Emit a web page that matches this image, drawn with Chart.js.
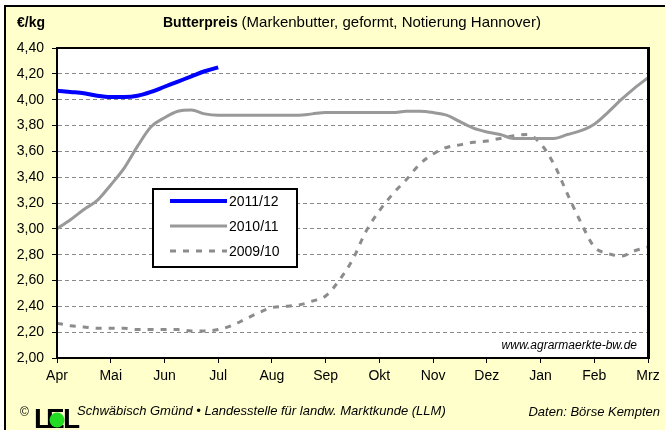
<!DOCTYPE html>
<html>
<head>
<meta charset="utf-8">
<script src="https://cdn.jsdelivr.net/npm/chart.js@4.4.1/dist/chart.umd.min.js"></script>
<style>
  html, body { margin: 0; padding: 0; background: #fff; }
  canvas { display: block; }
</style>
</head>
<body>
<canvas id="butterChart" width="665" height="430"></canvas>
<script>
var monthLabels = ['Apr', 'Mai', 'Jun', 'Jul', 'Aug', 'Sep', 'Okt', 'Nov', 'Dez', 'Jan', 'Feb', 'Mrz'];
var seriesNames = ['2011/12', '2010/11', '2009/10'];

// one reading per quarter month, starting at Apr (EUR/kg)
var price2011 = [4.07, 4.06, 4.05, 4.03, 4.02, 4.02, 4.03, 4.06, 4.10, 4.14, 4.18, 4.22, 4.25];
var price2010 = [3.00, 3.07, 3.15, 3.22, 3.34, 3.47, 3.64, 3.79, 3.86, 3.91, 3.92, 3.89,
                 3.88, 3.88, 3.88, 3.88, 3.88, 3.88, 3.88, 3.89, 3.90, 3.90, 3.90, 3.90,
                 3.90, 3.90, 3.91, 3.91, 3.90, 3.88, 3.83, 3.78, 3.75, 3.73, 3.70, 3.70,
                 3.70, 3.70, 3.73, 3.76, 3.81, 3.90, 4.00, 4.09, 4.17];
var price2009 = [2.27, 2.25, 2.24, 2.23, 2.23, 2.23, 2.22, 2.22, 2.22, 2.22, 2.21, 2.21,
                 2.22, 2.25, 2.30, 2.35, 2.39, 2.40, 2.41, 2.44, 2.48, 2.60, 2.76, 2.98,
                 3.14, 3.27, 3.38, 3.50, 3.58, 3.63, 3.65, 3.67, 3.68, 3.70, 3.72, 3.73,
                 3.66, 3.50, 3.27, 3.05, 2.86, 2.81, 2.79, 2.83, 2.86];

function toPoints(values) {
    return values.map(function (v, i) { return { x: i / 4, y: v }; });
}

var fontName = '"Liberation Sans", Arial, sans-serif';

var decorations = {
    id: 'decorations',
    beforeDraw: function (chart) {
        var c = chart.ctx, a = chart.chartArea;
        c.save();
        c.fillStyle = '#ffffff';
        c.fillRect(0, 0, 665, 430);
        c.fillStyle = '#ffffcc';
        c.fillRect(5, 5, 660, 425);
        c.strokeStyle = '#000';
        c.lineWidth = 2;
        c.beginPath();
        c.moveTo(5, 430);
        c.lineTo(5, 6);
        c.lineTo(665, 6);
        c.stroke();
        // white plot area
        c.fillStyle = '#ffffff';
        c.fillRect(a.left, a.top, a.right - a.left, a.bottom - a.top);
        c.restore();
    },
    afterDraw: function (chart) {
        var c = chart.ctx, a = chart.chartArea;
        c.save();

        // frame round the plot
        c.strokeStyle = '#000';
        c.lineWidth = 2;
        c.strokeRect(a.left, a.top, a.right - a.left, a.bottom - a.top);
        c.lineWidth = 3;
        c.beginPath();
        c.moveTo(a.right + 0.5, a.top - 1);
        c.lineTo(a.right + 0.5, a.bottom + 1);
        c.stroke();

        // titles
        c.fillStyle = '#000';
        c.textBaseline = 'alphabetic';
        c.textAlign = 'left';
        c.font = 'bold 14px ' + fontName;
        c.fillText('€/kg', 17, 27);
        c.fillText('Butterpreis', 163, 27);
        var w = c.measureText('Butterpreis ').width;
        c.font = '15px ' + fontName;
        c.fillText('(Markenbutter, geformt, Notierung Hannover)', 163 + w, 27);

        // watermark
        c.font = 'italic 12px ' + fontName;
        c.textAlign = 'right';
        c.fillText('www.agrarmaerkte-bw.de', 637, 349, 148);

        // legend
        var lx = 153, ly = 189, lw = 144, lh = 78;
        c.fillStyle = '#fff';
        c.fillRect(lx, ly, lw, lh);
        c.strokeStyle = '#000';
        c.lineWidth = 2;
        c.strokeRect(lx, ly, lw, lh);
        chart.data.datasets.forEach(function (ds, i) {
            var y = ly + 12 + i * 25;
            c.strokeStyle = ds.borderColor;
            c.lineWidth = ds.borderWidth;
            c.setLineDash(ds.borderDash || []);
            c.beginPath();
            c.moveTo(170, y);
            c.lineTo(227, y);
            c.stroke();
            c.setLineDash([]);
            c.fillStyle = '#000';
            c.font = '14px ' + fontName;
            c.textAlign = 'left';
            c.textBaseline = 'middle';
            c.fillText(ds.label, 229, y + 1);
        });

        // footer
        c.textBaseline = 'alphabetic';
        c.fillStyle = '#000';
        c.font = '12px ' + fontName;
        c.fillText('©', 20, 416);
        c.font = 'bold 28px ' + fontName;
        c.fillText('L', 34, 428);
        c.fillText('E', 46, 428);
        c.fillStyle = '#22dd22';
        c.beginPath();
        c.arc(57, 420, 7.5, 0, Math.PI * 2);
        c.fill();
        c.fillStyle = '#000';
        c.fillText('L', 63, 428);
        c.font = 'italic 13px ' + fontName;
        c.fillText('Schwäbisch Gmünd • Landesstelle für landw. Marktkunde (LLM)', 77, 415, 370);
        c.textAlign = 'right';
        c.fillText('Daten: Börse Kempten', 660, 416, 134);

        c.restore();
    }
};

var ctx = document.getElementById('butterChart').getContext('2d');
var butterChart = new Chart(ctx, {
    type: 'line',
    data: {
        datasets: [{
            label: seriesNames[0],
            data: toPoints(price2011),
            borderColor: '#0000ff',
            borderWidth: 4
        }, {
            label: seriesNames[1],
            data: toPoints(price2010),
            borderColor: '#999999',
            borderWidth: 3
        }, {
            label: seriesNames[2],
            data: toPoints(price2009),
            borderColor: '#8c8c8c',
            borderWidth: 3,
            borderDash: [6, 7]
        }]
    },
    options: {
        responsive: false,
        animation: false,
        layout: { padding: { top: 48, right: 17, left: 0, bottom: 0 } },
        elements: {
            point: { radius: 0 },
            line: { cubicInterpolationMode: 'monotone', fill: false }
        },
        plugins: {
            legend: { display: false },
            tooltip: { enabled: false }
        },
        scales: {
            x: {
                type: 'linear',
                min: 0,
                max: 11,
                afterFit: function (scale) { scale.height = 72; },
                ticks: {
                    stepSize: 1,
                    autoSkip: false,
                    maxRotation: 0,
                    padding: 5,
                    color: '#000',
                    font: { family: fontName, size: 14 },
                    callback: function (value) { return monthLabels[value]; }
                },
                grid: { drawOnChartArea: false, drawTicks: true, tickLength: 5, tickColor: '#000', tickWidth: 1 },
                border: { color: '#000', width: 2 }
            },
            y: {
                min: 2,
                max: 4.4,
                afterFit: function (scale) { scale.width = 57; },
                ticks: {
                    stepSize: 0.2,
                    padding: 8,
                    color: '#000',
                    font: { family: fontName, size: 14 },
                    callback: function (value) { return value.toFixed(2).replace('.', ','); }
                },
                grid: { color: '#8a8a8a', lineWidth: 1, tickLength: 5, tickColor: '#000', tickWidth: 1 },
                border: { color: '#000', width: 2, dash: [4, 3] }
            }
        }
    },
    plugins: [decorations]
});
</script>
</body>
</html>
